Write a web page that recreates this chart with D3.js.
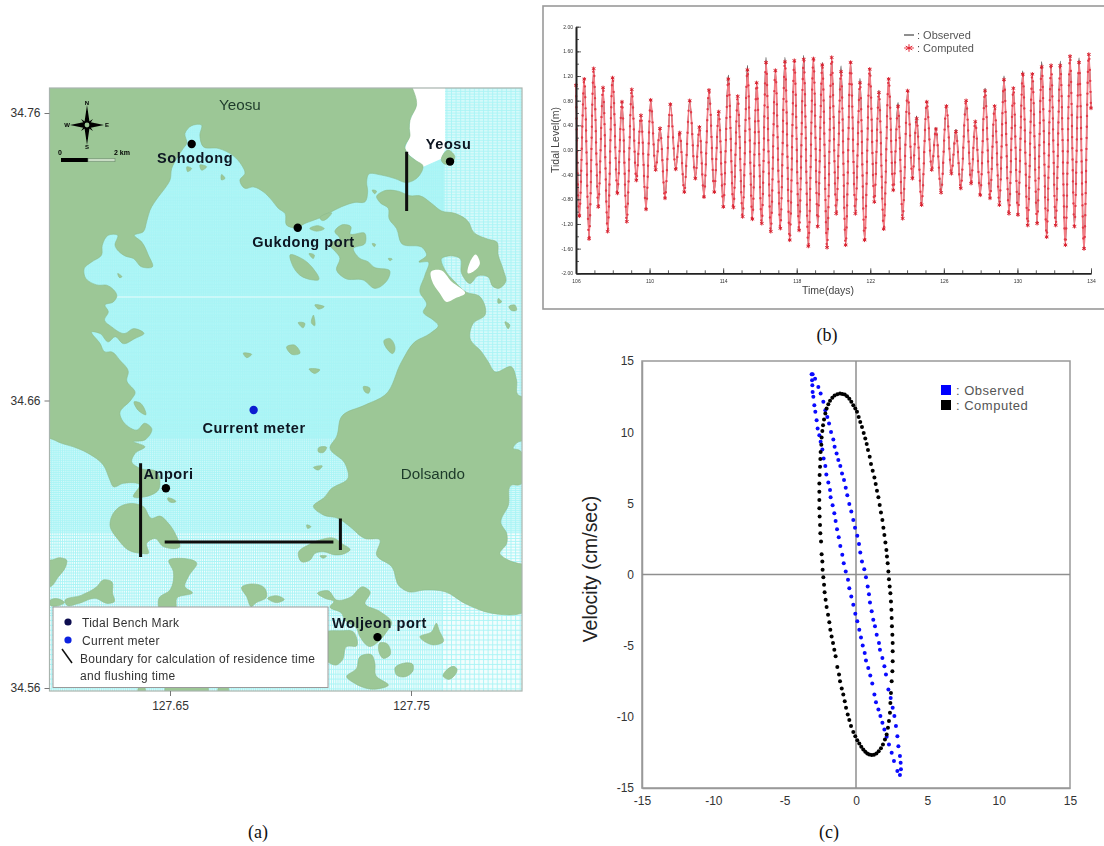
<!DOCTYPE html>
<html>
<head>
<meta charset="utf-8">
<script src="https://cdn.jsdelivr.net/npm/d3@7"></script>
<style>
  body { margin: 0; background: #fff; }
  svg { display: block; font-family: "Liberation Sans", Arial, sans-serif; }
</style>
</head>
<body>
<script>
// (b) tidal level: highs and lows, in days and metres
const tideStart = [106.0, 1.05]
const tideEnd = [134.0, 0.68]
const highDays = [106.45,106.96,107.47,107.99,108.50,109.03,109.53,110.06,110.57,111.13,111.64,112.18,112.71,113.23,113.76,114.28,114.79,115.32,115.82,116.33,116.84,117.36,117.87,118.38,118.91,119.39,
  119.90,120.41,120.93,121.44,121.97,122.47,123.00,123.51,124.03,124.52,125.07,125.57,126.14,126.66,127.21,127.71,128.24,128.76,129.27,129.78,130.29,130.81,131.32,131.83,132.33,132.86,133.35,133.88]
const highComputed = [1.15,1.32,1.01,1.17,.78,.98,.56,.81,.35,.74,.28,.80,.37,.97,.62,1.15,.87,1.30,1.09,1.42,1.29,1.43,1.45,1.47,1.48,1.38,
  1.50,1.27,1.42,1.09,1.31,.93,1.15,.71,.96,.51,.78,.34,.71,.30,.80,.46,.96,.71,1.14,1.00,1.23,1.23,1.35,1.37,1.37,1.52,1.42,1.55]
const highObserved = [1.14,1.31,1.00,1.17,.77,.97,.56,.80,.35,.73,.28,.79,.37,.96,.61,1.21,.86,1.37,1.08,1.50,1.28,1.50,1.44,1.53,1.47,1.42,
  1.49,1.36,1.41,1.16,1.30,.97,1.14,.77,.95,.55,.77,.36,.70,.33,.79,.45,1.00,.70,1.20,.99,1.28,1.22,1.43,1.36,1.44,1.51,1.49,1.54]
const lowDays = [106.18,106.71,107.21,107.72,108.25,108.76,109.28,109.81,110.33,110.84,111.42,111.89,112.49,112.96,113.52,114.01,114.56,115.06,115.59,116.10,116.59,117.11,117.62,118.13,118.63,119.14,119.65,
  120.15,120.66,121.19,121.69,122.22,122.73,123.25,123.76,124.29,124.79,125.34,125.85,126.41,126.92,127.48,127.98,128.51,129.02,129.54,130.03,130.56,131.07,131.59,132.08,132.61,133.10,133.62]
const lowComputed = [-1.07,-1.44,-.92,-1.32,-.70,-1.16,-.49,-.96,-.32,-.78,-.31,-.68,-.46,-.76,-.68,-.92,-.93,-1.08,-1.12,-1.19,-1.32,-1.27,-1.46,-1.30,-1.56,-1.24,-1.58,
  -1.03,-1.54,-1.03,-1.46,-.84,-1.28,-.65,-1.11,-.46,-.89,-.32,-.69,-.38,-.62,-.54,-.73,-.78,-.89,-1.03,-1.05,-1.22,-1.19,-1.41,-1.22,-1.54,-1.24,-1.60]
const lowObserved = [-1.05,-1.42,-.90,-1.30,-.69,-1.14,-.48,-.94,-.31,-.77,-.30,-.67,-.45,-.75,-.67,-.91,-.92,-1.07,-1.11,-1.18,-1.31,-1.26,-1.45,-1.29,-1.55,-1.23,-1.57,
  -1.02,-1.53,-1.02,-1.45,-.83,-1.27,-.64,-1.10,-.45,-.88,-.31,-.68,-.37,-.61,-.53,-.72,-.77,-.88,-1.02,-1.04,-1.21,-1.18,-1.40,-1.21,-1.53,-1.23,-1.59]
const tideDayLabels = [106,110,114,118,122,126,130,134]
const tideLevelLabels = [2,1.6,1.2,.8,.4,0,-.4,-.8,-1.2,-1.6,-2]

// (c) current hodograph, u and v in cm/sec
const hodoObserved = [[-3.11,14.07],[-3.08,13.64],[-3.06,13.29],[-3.04,12.83],[-2.99,12.48],[-2.92,11.89],[-2.85,11.43],[-2.76,10.84],[-2.69,10.26],[-2.57,9.79],[-2.48,9.32],[-2.36,8.79],[-2.27,8.15],[-2.15,7.62],[-2.08,7.03],[-1.94,6.47],[-1.82,5.93],[-1.78,5.42],[-1.64,4.86],[-1.52,4.30],[-1.43,3.76],[-1.33,3.18],[-1.21,2.62],[-1.10,2.01],[-.96,1.38],[-.86,.79],[-.72,.21],[-.56,-.37],[-.47,-.96],[-.33,-1.54],[-.19,-2.13],[-.05,-2.76],[.09,-3.29],[.23,-3.88],[.35,-4.42],[.47,-4.98],[.61,-5.51],[.70,-6.05],[.86,-6.57],[1.00,-7.10],[1.14,-7.66],[1.29,-8.43],[1.40,-8.97],[1.57,-9.49],[1.71,-9.95],[1.85,-10.42],[1.99,-10.89],[2.15,-11.40],[2.31,-11.94],[2.50,-12.52],[2.66,-13.11],[2.90,-13.81],[3.08,-14.09],
  [3.15,-13.69],[3.13,-13.22],[3.08,-12.76],[2.97,-12.06],[2.90,-11.36],[2.80,-10.65],[2.69,-9.95],[2.57,-9.37],[2.43,-8.67],[2.27,-8.08],[2.10,-7.03],[1.99,-6.45],[1.85,-5.86],[1.68,-5.28],[1.61,-4.81],[1.45,-4.23],[1.33,-3.64],[1.21,-3.18],[1.10,-2.59],[.98,-1.96],[.91,-1.38],[.82,-.84],[.70,-.19],[.58,.37],[.42,.91],[.30,1.54],[.21,2.15],[.09,2.73],[-.07,3.29],[-.19,3.83],[-.33,4.42],[-.47,4.95],[-.61,5.56],[-.72,6.10],[-.84,6.64],[-.98,7.10],[-1.10,7.62],[-1.24,8.04],[-1.36,8.50],[-1.50,8.97],[-1.59,9.49],[-1.75,10.02],[-1.89,10.61],[-2.01,11.07],[-2.15,11.54],[-2.29,12.13],[-2.48,12.71],[-2.64,13.18],[-2.87,13.76],[-3.04,14.07]]
const hodoComputed = [[-1.12,12.71],[-1.31,12.66],[-1.50,12.57],[-1.66,12.41],[-1.82,12.20],[-1.94,11.96],[-2.06,11.66],[-2.15,11.31],[-2.24,10.89],[-2.31,10.49],[-2.36,10.09],[-2.41,9.63],[-2.43,9.11],[-2.48,8.60],[-2.50,8.11],[-2.52,7.57],[-2.55,6.99],[-2.57,6.40],[-2.57,5.82],[-2.57,5.23],[-2.57,4.65],[-2.55,4.07],[-2.52,3.48],[-2.50,2.90],[-2.45,2.31],[-2.41,1.43],[-2.36,.91],[-2.34,.33],[-2.29,-.19],[-2.24,-.72],[-2.20,-1.24],[-2.13,-1.78],[-2.06,-2.29],[-1.96,-2.83],[-1.87,-3.36],[-1.80,-3.88],[-1.71,-4.35],[-1.61,-4.81],[-1.52,-5.28],[-1.43,-5.75],[-1.31,-6.50],[-1.19,-7.03],[-1.12,-7.50],[-1.00,-8.01],[-.89,-8.43],[-.79,-8.90],[-.70,-9.37],[-.58,-9.84],[-.47,-10.23],[-.35,-10.65],[-.19,-11.07],[-.05,-11.36],[.09,-11.64],[.23,-11.87],[.37,-12.10],[.51,-12.29],[.65,-12.45],[.79,-12.57],[.93,-12.64],[1.10,-12.69],[1.26,-12.66],[1.43,-12.57],[1.59,-12.41],[1.75,-12.20],[1.89,-11.94],[2.03,-11.59],[2.15,-11.24],[2.24,-10.77],[2.31,-10.30],[2.38,-9.72],[2.41,-9.02],[2.45,-8.32],[2.50,-7.50],[2.55,-6.80],[2.57,-6.10],[2.57,-5.40],[2.57,-4.81],[2.55,-4.23],[2.52,-3.64],[2.50,-3.06],[2.48,-2.48],[2.45,-1.89],[2.41,-1.31],[2.36,-.84],[2.31,-.33],[2.27,.21],[2.22,.79],[2.17,1.26],[2.13,1.73],[2.06,2.24],[1.99,2.78],[1.92,3.29],[1.85,3.83],[1.75,4.35],[1.66,4.88],[1.57,5.42],[1.47,5.89],[1.38,6.36],[1.29,6.82],[1.17,7.29],[1.05,7.76],[.96,8.27],[.84,8.74],[.75,9.16],[.65,9.56],[.54,9.95],[.42,10.37],[.30,10.72],[.19,11.07],[.07,11.43],[-.05,11.66],[-.19,11.89],[-.33,12.13],[-.47,12.34],[-.63,12.52],[-.79,12.64],[-.96,12.69]]
const hodoTicks = [-15,-10,-5,0,5,10,15]

// (a) map outlines, in thousandths of a degree east of 127.60 and north of 34.56
const landNorth = [[-1,210],[150,210],[152.3,202.7],[149.6,197.5],[149.3,194.6],[149.6,192.3],[147.5,187.7],[148.6,185.9],[152.3,183.3],[154.8,181.9],[153,177.8],[148.2,175.8],[143.3,177.2],[137.8,178.4],[132.3,178.6],[131.6,176],[132,172.6],[130.9,169.1],[126.7,168.9],[121.2,167.4],[115.7,165.1],[111.5,163.3],[106,161.6],[102.5,160.1],[98.4,161],[97.7,165.1],[95,166.8],[92.2,169.7],[88.7,172.6],[84.6,174.3],[81.1,173.8],[79,176.7],[81.1,179],[79.7,181.9],[76.3,185.1],[70,187.7],[63.8,188.3],[62.4,192.3],[63.1,195.8],[59,195.6],[56.2,192.9],[56.9,189.4],[55.5,187.7],[52.8,184.2],[50.7,180.7],[50,176.7],[47.9,173.8],[45.2,170.9],[41.7,166.2],[40.3,162.2],[38.9,158.7],[35.2,157.5],[38.2,155.2],[41,150.6],[42.7,146.5],[38.2,146.5],[34.8,149.4],[31.3,150.3],[27.2,154],[28.3,157.5],[24.4,157.5],[21.9,154],[21.6,150.6],[17.5,148.2],[14.4,145.9],[14.7,143],[20.3,140.1],[23.7,140.1],[27.9,136.1],[26.5,134.3],[23,133.2],[24.4,130.9],[22.8,128],[25.8,125.6],[31.3,123.3],[34.8,125],[39.2,123.3],[35.5,121.6],[30.6,119.8],[27.2,122.2],[24.4,120.4],[21,123.3],[17.5,123.9],[21,119.8],[23,116.9],[25.8,116.9],[29.2,114],[32.7,110],[32,107.1],[35.5,102.5],[33.8,100.2],[29.2,95.5],[30.6,92.6],[32.7,90.9],[36.2,89.7],[39.6,92.1],[42.4,90.3],[39.6,86.3],[34.8,85.7],[39.6,83.9],[35.5,81.6],[34.1,78.7],[37.5,76.4],[44.5,75.2],[45.2,68.9],[39.6,66.5],[34.8,66.5],[37.5,70.6],[30.6,71.2],[26.5,70],[25.1,72.3],[22.3,77.6],[16.1,81.6],[9.9,83.9],[5,85.1],[.2,86.8],[-1,87]]
const landDolsan = [[135.7,170.9],[138.5,172.8],[144.7,172.8],[149.6,171.2],[153.7,171.2],[158.6,168.5],[162.7,165.9],[168.2,165.1],[173.8,162.2],[175.8,158.7],[182,156.1],[185.5,155.2],[186.2,150.6],[188.3,145.4],[189.3,141.3],[186.2,139],[184.1,139.6],[182,143],[177.9,143.4],[174.5,140.7],[171,144.2],[170.3,149.4],[166.2,150.3],[162.7,149.4],[164.1,145.4],[168.2,141.3],[173.1,137.6],[178.2,136.4],[180.7,129.7],[175.8,126.8],[174.5,121.6],[179.3,116.9],[182,113.5],[184.8,110],[191.7,111.7],[193.8,107.1],[194.5,101.9],[197,101],[197,86],[194.8,85.7],[193,84.5],[192.4,83.4],[194.8,82.8],[194.8,70.6],[191.8,70.6],[190.4,63.6],[187.3,57.3],[189.7,53.8],[189.7,50.3],[186.9,46.8],[190.4,44.5],[194.8,43.3],[197,43],[197,26.5],[183.5,26],[172.4,29.4],[164.1,33.5],[155.8,34.1],[148.9,33.5],[145.4,35.2],[142,42.2],[135.7,46.3],[137.1,51.5],[130.9,52],[124.7,56.1],[119.8,59],[113.6,60.2],[109.5,63.1],[114.3,66.5],[116.4,68.9],[124,73.3],[122.6,78.1],[116.4,83.7],[119.1,87.4],[121.2,94.4],[130.9,98.4],[139.2,101.9],[146.1,113.5],[151.6,120.4],[157.9,123.3],[161.3,126.2],[159.2,128],[155.1,130.9],[156.5,133.2],[153.7,137.8],[155.8,143.6],[157.2,148.2],[153.3,148.2],[156.5,150.6],[155.1,152.9],[146.1,154.6],[144,159.8],[140.9,163.3],[140.6,166.8],[137.1,168.9]]
const islands = [
  [[34.1,64.2],[29.3,63.1],[26.5,60.8],[25.1,56.7],[28.6,51.5],[32.7,48],[38.2,46.8],[41,46.8],[40.3,50.3],[43.8,52],[47.2,49.2],[54.1,49.2],[52.8,52.6],[49.3,57.3],[45.8,59.8],[42.4,59],[38.9,63.1]],
  [[.2,44.5],[4.4,45.3],[7.1,44.5],[6.7,42.2],[3.7,38.7],[.2,35.2],[-2,35],[-2,45]],
  [[6.4,30],[13.3,32.3],[19.6,35.2],[22.3,37.6],[25.8,37],[26.2,32.9],[26.9,30],[24.4,29.4],[18.9,31.2],[12,29.4],[7.1,28.9]],
  [[.2,30.4],[3,31.1],[6.2,29.7],[3,28.5],[.2,28.9]],
  [[49.6,44.5],[53.4,45.1],[61.1,43.4],[57.6,38.7],[56.2,35.2],[59.3,33.2],[52.8,31.2],[52.3,27.1],[45.8,27.1],[45.4,31.2],[50,34.1],[51.4,40.4]],
  [[79.7,35],[83.9,36.2],[89.4,34.6],[90.1,31.8],[85.3,29.4],[83.9,28.3],[81.8,31.8]],
  [[90.5,31.2],[94.3,32.1],[97.4,30.8],[94.3,29.7]],
  [[49,66],[52.4,64.8],[51.4,64.5],[49.3,65.1]],
  [[35.2,99.6],[37.5,99.2],[39.9,95],[36.9,96.5]],
  [[99.8,150.6],[104.6,149.4],[108.8,146.5],[111.5,141.9],[109.5,141.9],[103.9,143.6],[100.5,147.7]],
  [[118.4,158.7],[121.9,161.2],[125.1,160.4],[124.7,158.1],[130.9,158.1],[130.9,154.6],[126.1,152.9],[128.8,149.4],[132.3,148.2],[134.4,146.5],[141.3,144.8],[140.6,142.5],[135,139],[130.2,141.9],[122.6,142.5],[119.1,145.4],[120.5,149.4],[116.4,154.6],[120.5,156.4]],
  [[108,159.8],[111.5,160.8],[114,159.8],[110.8,158.9]],
  [[112.2,163.3],[117.1,165.1],[116.4,164.3],[112.9,162.7]],
  [[133.9,173.2],[135.7,172.8],[135,171.9]],
  [[110.1,133.2],[114,132.6],[111.5,131.8]],
  [[103.2,127.1],[106,126.8],[105.3,125.3]],
  [[109.5,129.7],[109.9,126],[108.8,126.8]],
  [[98.4,118.7],[101.6,119.3],[103.9,116.4],[100.7,116]],
  [[107.7,110.9],[112.2,110.6],[110.1,109.4]],
  [[138.9,121],[140.8,121.6],[143.3,117.5],[142.6,116.4],[139.9,118.1]],
  [[130.2,104.8],[133,104.2],[132.3,102.5],[130.9,103]],
  [[186.2,135.5],[187.6,134.3],[186.2,133.8]],
  [[190.6,132.6],[193.1,133.2],[193.8,131.4],[191.5,131.4]],
  [[189,127.4],[191,126.2],[190.4,125]],
  [[133.9,154.6],[135.3,154.3],[134.8,153.5]],
  [[140.6,149.4],[142.2,149.2],[141.3,148.6]],
  [[107.7,151.1],[109.9,150.6],[109.5,149.4]],
  [[80.4,116.4],[83.9,116],[81.8,114.9]],
  [[71.4,178.6],[72.8,177.2],[71.4,176.7]],
  [[57,181.3],[59,180.7],[57.3,179.6]],
  [[62.4,181.9],[65.2,181.3],[63.1,180.1]],
  [[28.3,144.2],[30,143],[29.2,142.7]],
  [[111.5,83.4],[115,83.7],[113.6,81.9],[111.5,82.2]],
  [[109.5,76.7],[113.2,77.2],[111.5,75.8]],
  [[106.7,56.7],[108.5,56.1],[107.1,55.5]],
  [[103.2,46.8],[108.1,50.1],[112.2,51.5],[118.4,52],[121.2,50.3],[124.7,48],[122.6,46.8],[118.4,46.3],[113.6,47.4],[110.1,46.8],[108.1,44.5],[104.6,43.9]],
  [[112.2,45.9],[115,45.9],[113.6,45.1]],
  [[111.2,32.9],[115.7,33.8],[119.1,30.6],[124.7,31.5],[130.2,35.2],[133,33.5],[130.9,29.4],[137.1,26.6],[142,22.5],[139.9,19.6],[136.4,16.1],[133,14.4],[128.8,17.9],[127.4,20.8],[122.6,23.6],[121.2,26],[116.4,28.3],[118,30],[114.3,31.2]],
  [[115,19.6],[120.5,19.9],[126,19.6],[127.4,14.6],[123.3,14.4],[121.5,9.7],[119.1,8],[115.4,9.1]],
  [[137.1,15.7],[139.9,15.5],[141.3,11.5],[138.5,10.3],[136.7,12.6]],
  [[128.8,10.9],[133.7,11.5],[135,8.6],[135.3,4.5],[140.6,1],[134.4,-.4],[126.7,1.6],[123.3,3.9],[127.4,6.8]],
  [[143.3,6.8],[150.9,8],[150.9,6.2],[147.5,3.9],[144,4.5]],
  [[163.4,3.9],[168.2,7.4],[168.9,6.9],[165.5,3]],
  [[153.7,17.9],[158.6,19.6],[160.6,22.5],[161.6,20.2],[163.4,16.1],[159.2,15]],
  [[162.7,183.3],[165.5,187.1],[168.2,184.8],[166.2,182.1],[163.4,182.5]],
  [[36.9,0],[39.6,0],[39.6,-2],[36.9,-2]],
  [[47.9,0],[65.9,0],[65.9,-2],[47.9,-2]],
  [[70,0],[74.2,0],[74.2,-2],[70,-2]]
]
const ungridded = [[150,210],[164.1,210],[164.1,187.1],[162.4,184],[155.1,181.3],[152.3,183.3],[148.6,185.9],[147.5,187.7],[149.6,192.3],[149.3,194.6],[149.6,197.5],[152.3,202.7]]
const lagoons = [
  [[158.3,144.8],[162,145.4],[166.9,141.3],[172.4,137.2],[168.2,135.5],[164.8,134.3],[162,137.2],[158.6,141.9]],
  [[174.5,148.2],[176.8,150.8],[178.6,147.7],[175.8,144.8],[173.8,144.2]]
]
const boundaries = [
  [[148.2,186.5],[148.2,165.9]],
  [[37.8,78.2],[37.8,45.6]],
  [[47.8,50.8],[117.8,50.8]],
  [[120.7,59],[120.7,48]]
]
const stationNames = ['Sohodong','Yeosu','Gukdong port','Anpori','Woljeon port']
const stationCoords = [[59,189.2],[166.2,183.1],[103,160.1],[48.3,69.5],[136.1,17.7]]
const stationLabelCoords = [[60.4,184.3],[165.6,189.2],[105.4,155.1],[49.4,74.4],[136.9,22.6]]
const meterCoords = [84.7,96.7]
const meterLabelCoords = [84.9,90.4]
const placeNames = ['Yeosu','Dolsando']
const placeCoords = [[79,202.8],[159.1,74.4]]
const lonTicks = [127.65,127.75]
const latTicks = [34.76,34.66,34.56]
// model grid zones: from, to, step in the same thousandths of a degree
const gridCols = [[0,163,.9],[163,197,1.9]]
const gridRows = [[-2,26,1.7],[26,54,1],[54,87,.7],[87,210,.55]]
// the finest cells blur into a nearly flat tint: west, east, south, north edges
const fineWater = [0,164,87,210]
const midWater = [0,197,54,87]

const svg = d3.select('body').append('svg')
  .attr('width', 1104)
  .attr('height', 846)

const defs = svg.append('defs')
const addBlur = (id, amount) => defs.append('filter')
  .attr('id', id)
  .attr('x', '-2%').attr('y', '-2%').attr('width', '104%').attr('height', '104%')
  .append('feGaussianBlur').attr('stdDeviation', amount)
addBlur('soft', .5)
addBlur('softer', .7)

// ---- (a) map ----
const lonScale = d3.scaleLinear().domain([127.65, 127.75]).range([170, 411])
const latScale = d3.scaleLinear().domain([34.56, 34.76]).range([688, 113])
const mapX = (a) => lonScale(127.6 + a / 1000)
const mapY = (b) => latScale(34.56 + b / 1000)
const frame = { left: 49.5, right: 522, top: 88, bottom: 691 }

const mapG = svg.append('g').attr('filter', 'url(#soft)')
defs.append('clipPath').attr('id', 'mapclip').append('rect')
  .attr('x', frame.left).attr('y', frame.top)
  .attr('width', frame.right - frame.left).attr('height', frame.bottom - frame.top)

const inner = mapG.append('g').attr('clip-path', 'url(#mapclip)')
inner.append('rect')
  .attr('x', frame.left).attr('y', frame.top)
  .attr('width', frame.right - frame.left).attr('height', frame.bottom - frame.top)
  .attr('fill', '#f2fdfd')
const addTint = (zone, fill) => inner.append('rect')
  .attr('x', mapX(zone[0])).attr('y', mapY(zone[3]))
  .attr('width', mapX(zone[1]) - mapX(zone[0])).attr('height', mapY(zone[2]) - mapY(zone[3]))
  .attr('fill', fill)
addTint(midWater, '#d6fafa')
addTint(fineWater, '#b6f7f7')

const zoneValues = (zones) => d3.merge(zones.map((z) => d3.range(z[0], z[1], z[2])))
inner.selectAll('line.col').data(zoneValues(gridCols)).enter().append('line')
  .attr('class', 'col')
  .attr('x1', mapX).attr('x2', mapX)
  .attr('y1', frame.top).attr('y2', frame.bottom)
  .attr('stroke', '#a8f4f5').attr('stroke-width', .9)
inner.selectAll('line.row').data(zoneValues(gridRows)).enter().append('line')
  .attr('class', 'row')
  .attr('x1', frame.left).attr('x2', frame.right)
  .attr('y1', mapY).attr('y2', mapY)
  .attr('stroke', '#a8f4f5').attr('stroke-width', .9)
// pale seam between two grid blocks
inner.append('line')
  .attr('x1', mapX(20)).attr('x2', mapX(165))
  .attr('y1', mapY(136)).attr('y2', mapY(136))
  .attr('stroke', '#e8fcfc').attr('stroke-width', 1)

const coast = d3.line().x((d) => mapX(d[0])).y((d) => mapY(d[1]))
  .curve(d3.curveCatmullRomClosed.alpha(1))
const straight = d3.line().x((d) => mapX(d[0])).y((d) => mapY(d[1]))

inner.append('path').attr('d', straight(ungridded) + 'Z').attr('fill', '#fff')
inner.selectAll('path.land').data([landNorth, landDolsan].concat(islands)).enter().append('path')
  .attr('class', 'land')
  .attr('d', coast)
  .attr('fill', '#9cc796')
  .attr('stroke', '#8dbb8c')
  .attr('stroke-width', .6)
inner.selectAll('path.lagoon').data(lagoons).enter().append('path')
  .attr('class', 'lagoon')
  .attr('d', coast)
  .attr('fill', '#fff')

inner.selectAll('path.boundary').data(boundaries).enter().append('path')
  .attr('class', 'boundary')
  .attr('d', straight)
  .attr('stroke', '#0a0a0a').attr('stroke-width', 3).attr('fill', 'none')

inner.selectAll('circle.station').data(stationCoords).enter().append('circle')
  .attr('class', 'station')
  .attr('cx', (d) => mapX(d[0])).attr('cy', (d) => mapY(d[1]))
  .attr('r', 4.2).attr('fill', '#000')
inner.append('circle')
  .attr('cx', mapX(meterCoords[0])).attr('cy', mapY(meterCoords[1]))
  .attr('r', 4.2).attr('fill', '#0a1fd0')

inner.selectAll('text.station').data(stationNames).enter().append('text')
  .attr('class', 'station')
  .attr('x', (d, i) => mapX(stationLabelCoords[i][0]))
  .attr('y', (d, i) => mapY(stationLabelCoords[i][1]))
  .attr('dy', '.35em').attr('text-anchor', 'middle')
  .attr('font-size', 14.5).attr('letter-spacing', .55).attr('font-weight', 'bold').attr('fill', '#0c1420')
  .text((d) => d)
inner.append('text')
  .attr('x', mapX(meterLabelCoords[0])).attr('y', mapY(meterLabelCoords[1]))
  .attr('dy', '.35em').attr('text-anchor', 'middle')
  .attr('font-size', 14.5).attr('letter-spacing', .55).attr('font-weight', 'bold').attr('fill', '#0c1420')
  .text('Current meter')
inner.selectAll('text.place').data(placeNames).enter().append('text')
  .attr('class', 'place')
  .attr('x', (d, i) => mapX(placeCoords[i][0]))
  .attr('y', (d, i) => mapY(placeCoords[i][1]))
  .attr('dy', '.35em').attr('text-anchor', 'middle')
  .attr('font-size', 15.2).attr('fill', '#1d3a2a')
  .text((d) => d)

// north arrow
const compass = inner.append('g').attr('transform', 'translate(87,125)')
compass.append('path').attr('d', 'M0,-20L2.5,-3L17,0L2.5,3L0,20L-2.5,3L-17,0L-2.5,-3Z').attr('fill', '#000')
compass.append('path').attr('d', 'M-6,-6L0,-2L6,-6L2,0L6,6L0,2L-6,6L-2,0Z').attr('fill', '#000')
compass.append('circle').attr('r', 3.2).attr('fill', '#9cc796').attr('stroke', '#000').attr('stroke-width', 1.6)
const compassLetters = [['N',0,-20],['S',0,24],['E',20,2],['W',-20,2]]
compass.selectAll('text').data(compassLetters).enter().append('text')
  .attr('x', (d) => d[1]).attr('y', (d) => d[2])
  .attr('text-anchor', 'middle').attr('font-size', 6).attr('font-weight', 'bold')
  .text((d) => d[0])

// scale bar
inner.append('rect').attr('x', 61).attr('y', 158).attr('width', 27).attr('height', 4).attr('fill', '#000')
inner.append('rect').attr('x', 88).attr('y', 158.5).attr('width', 27).attr('height', 3.2)
  .attr('fill', '#c8dcc4').attr('stroke', '#6a8a6a').attr('stroke-width', .6)
inner.append('text').attr('x', 60).attr('y', 155).attr('font-size', 7).attr('font-weight', 'bold').attr('text-anchor', 'middle').text('0')
inner.append('text').attr('x', 122).attr('y', 155).attr('font-size', 7).attr('font-weight', 'bold').attr('text-anchor', 'middle').text('2 km')

// map legend
const legendA = inner.append('g')
legendA.append('rect').attr('x', 53).attr('y', 607).attr('width', 275).attr('height', 80.5)
  .attr('fill', '#fff').attr('stroke', '#9a9a9a').attr('stroke-width', 1)
legendA.append('circle').attr('cx', 68).attr('cy', 622).attr('r', 3.6).attr('fill', '#0a0a50')
legendA.append('circle').attr('cx', 68).attr('cy', 640).attr('r', 3.6).attr('fill', '#0a20e0')
legendA.append('line').attr('x1', 62).attr('y1', 649).attr('x2', 72).attr('y2', 663)
  .attr('stroke', '#111').attr('stroke-width', 1.5)
const legendALines = [['Tidal Bench Mark',82,623],['Current meter',82,641],['Boundary for calculation of residence time',80,659],['and flushing time',80,676]]
legendA.selectAll('text').data(legendALines).enter().append('text')
  .attr('x', (d) => d[1]).attr('y', (d) => d[2]).attr('dy', '.35em')
  .attr('font-size', 12).attr('letter-spacing', .28).attr('fill', '#333')
  .text((d) => d[0])

mapG.append('rect')
  .attr('x', frame.left).attr('y', frame.top)
  .attr('width', frame.right - frame.left).attr('height', frame.bottom - frame.top)
  .attr('fill', 'none').attr('stroke', '#a8b4ae').attr('stroke-width', 1.2)

const mapAxisB = svg.append('g').attr('transform', `translate(0,${frame.bottom})`)
  .call(d3.axisBottom(lonScale).tickValues(lonTicks).tickSize(5).tickPadding(5).tickFormat(d3.format('.2f')))
const mapAxisL = svg.append('g').attr('transform', `translate(${frame.left},0)`)
  .call(d3.axisLeft(latScale).tickValues(latTicks).tickSize(5).tickPadding(4).tickFormat(d3.format('.2f')))
for (const ax of [mapAxisB, mapAxisL]) {
  ax.select('.domain').remove()
  ax.selectAll('text').attr('font-size', 12).attr('font-family', 'Liberation Sans').attr('fill', '#333')
  ax.selectAll('line').attr('stroke', '#777')
}

// ---- (b) tide ----
const tideG = svg.append('g').attr('filter', 'url(#softer)')
tideG.append('rect').attr('x', 543).attr('y', 6).attr('width', 600).attr('height', 303)
  .attr('fill', '#fff').attr('stroke', '#999').attr('stroke-width', 1.6)

const dayScale = d3.scaleLinear().domain([106, 134]).range([576, 1091])
const levelScale = d3.scaleLinear().domain([-2, 2]).range([273.3, 26.7])

const tideSeries = (levels, lows) => {
  const extremes = highDays.map((d, i) => [d, levels[i]])
    .concat(lowDays.map((d, i) => [d, lows[i]]))
  return [tideStart].concat(extremes.sort((p, q) => p[0] - q[0]), [tideEnd])
}
const observed = tideSeries(highObserved, lowObserved)
const computed = tideSeries(highComputed, lowComputed)

const tideLine = d3.line().x((d) => dayScale(d[0])).y((d) => levelScale(d[1])).curve(d3.curveMonotoneX)
tideG.append('path').attr('d', tideLine(observed)).attr('fill', 'none').attr('stroke', '#222').attr('stroke-width', 1.1)
tideG.append('path').attr('d', tideLine(computed)).attr('fill', 'none').attr('stroke', '#f27c84').attr('stroke-width', 1.8)
// dots along the flanks are only a line style, the data stays the highs and lows
tideG.append('path').attr('d', tideLine(computed)).attr('fill', 'none')
  .attr('stroke', '#e23a48').attr('stroke-width', 2.4).attr('stroke-linecap', 'round')
  .attr('stroke-dasharray', '0.01 11')

const star = d3.symbol().type(d3.symbolAsterisk).size(12)
tideG.selectAll('path.mark').data(computed).enter().append('path')
  .attr('class', 'mark')
  .attr('d', star)
  .attr('transform', (d) => `translate(${dayScale(d[0])},${levelScale(d[1])})`)
  .attr('fill', 'none').attr('stroke', '#d8202e').attr('stroke-width', 1)

const dayAxis = d3.axisBottom(dayScale)
  .tickValues(tideDayLabels).tickSizeInner(-5).tickSizeOuter(0).tickPadding(6)
const dayAxisMinor = d3.axisBottom(dayScale)
  .tickValues(d3.range(106, 135)).tickSizeInner(-3).tickSizeOuter(0).tickFormat('')
const levelAxis = d3.axisLeft(levelScale)
  .tickValues(tideLevelLabels).tickSizeInner(-5).tickSizeOuter(0).tickPadding(3)
  .tickFormat((d) => d.toFixed(2))
const levelAxisMinor = d3.axisLeft(levelScale)
  .tickValues(d3.range(-2, 2.01, .2)).tickSizeInner(-3).tickSizeOuter(0).tickFormat('')
for (const [axis, tr] of [[dayAxisMinor, 'translate(0,273.3)'], [dayAxis, 'translate(0,273.3)'], [levelAxisMinor, 'translate(576,0)'], [levelAxis, 'translate(576,0)']]) {
  const g = tideG.append('g').attr('transform', tr).call(axis)
  g.select('.domain').attr('stroke', '#222').attr('stroke-width', 1.6)
  g.selectAll('line').attr('stroke', '#333').attr('stroke-width', .8)
  g.selectAll('text').attr('font-size', 5).attr('fill', '#333')
}
tideG.append('text').attr('transform', 'translate(555,140) rotate(-90)')
  .attr('text-anchor', 'middle').attr('dy', '.35em').attr('font-size', 10.5).attr('fill', '#444').text('Tidal Level(m)')
tideG.append('text').attr('x', 828).attr('y', 290).attr('dy', '.35em')
  .attr('text-anchor', 'middle').attr('font-size', 10.5).attr('fill', '#444').text('Time(days)')

tideG.append('line').attr('x1', 904).attr('x2', 914).attr('y1', 35).attr('y2', 35).attr('stroke', '#333').attr('stroke-width', 1.1)
tideG.append('line').attr('x1', 904).attr('x2', 914).attr('y1', 48).attr('y2', 48).attr('stroke', '#f27c84').attr('stroke-width', 1.4)
tideG.append('path').attr('d', d3.symbol().type(d3.symbolAsterisk).size(40))
  .attr('transform', 'translate(909,48)').attr('fill', 'none').attr('stroke', '#e0202f').attr('stroke-width', 1)
tideG.append('text').attr('x', 917).attr('y', 35).attr('dy', '.35em').attr('font-size', 11).attr('fill', '#555').text(': Observed')
tideG.append('text').attr('x', 917).attr('y', 48).attr('dy', '.35em').attr('font-size', 11).attr('fill', '#555').text(': Computed')

// ---- (c) hodograph ----
const hodoG = svg.append('g')
const uScale = d3.scaleLinear().domain([-15, 15]).range([642, 1070])
const vScale = d3.scaleLinear().domain([-15, 15]).range([788, 361])

for (const [axis, tr] of [
  [d3.axisBottom(uScale), 'translate(0,788)'],
  [d3.axisLeft(vScale), 'translate(642,0)']
]) {
  const g = hodoG.append('g').attr('transform', tr)
    .call(axis.tickValues(hodoTicks).tickSize(0).tickPadding(8).tickFormat((d) => String(d)))
  g.select('.domain').attr('stroke', '#999').attr('stroke-width', 1.5)
  g.selectAll('text').attr('font-size', 12).attr('fill', '#333').attr('font-family', 'Liberation Sans')
}
hodoG.append('rect').attr('x', uScale(-15)).attr('y', vScale(15))
  .attr('width', uScale(15) - uScale(-15)).attr('height', vScale(-15) - vScale(15))
  .attr('fill', 'none').attr('stroke', '#999').attr('stroke-width', 1.5)
hodoG.append('line').attr('x1', uScale(-15)).attr('x2', uScale(15)).attr('y1', vScale(0)).attr('y2', vScale(0))
  .attr('stroke', '#8f8f8f').attr('stroke-width', 1.5)
hodoG.append('line').attr('x1', uScale(0)).attr('x2', uScale(0)).attr('y1', vScale(15)).attr('y2', vScale(-15))
  .attr('stroke', '#8f8f8f').attr('stroke-width', 1.5)

hodoG.selectAll('circle.obs').data(hodoObserved).enter().append('circle')
  .attr('class', 'obs')
  .attr('cx', (d) => uScale(d[0])).attr('cy', (d) => vScale(d[1]))
  .attr('r', 2).attr('fill', '#0a0aff')
hodoG.selectAll('circle.comp').data(hodoComputed).enter().append('circle')
  .attr('class', 'comp')
  .attr('cx', (d) => uScale(d[0])).attr('cy', (d) => vScale(d[1]))
  .attr('r', 2).attr('fill', '#000')

hodoG.append('text').attr('transform', 'translate(590,569) rotate(-90)')
  .attr('text-anchor', 'middle').attr('dy', '.35em').attr('font-size', 19.4).attr('fill', '#222').text('Velocity (cm/sec)')
hodoG.append('rect').attr('x', 941).attr('y', 385).attr('width', 10).attr('height', 10).attr('fill', '#0000ff')
hodoG.append('rect').attr('x', 941).attr('y', 400).attr('width', 10).attr('height', 10).attr('fill', '#000')
hodoG.append('text').attr('x', 956).attr('y', 390).attr('dy', '.35em').attr('font-size', 13).attr('letter-spacing', .5).attr('fill', '#555').text(': Observed')
hodoG.append('text').attr('x', 956).attr('y', 405).attr('dy', '.35em').attr('font-size', 13).attr('letter-spacing', .5).attr('fill', '#555').text(': Computed')

// captions
const captionNames = ['(a)','(b)','(c)']
const captionSpots = [[258,832],[827,335],[829,832]]
svg.selectAll('text.caption').data(captionNames).enter().append('text')
  .attr('class', 'caption')
  .attr('x', (d, i) => captionSpots[i][0]).attr('y', (d, i) => captionSpots[i][1])
  .attr('dy', '.35em').attr('text-anchor', 'middle')
  .attr('font-family', '"Liberation Serif", serif').attr('font-size', 18).attr('fill', '#111')
  .text((d) => d)
</script>
</body>
</html>
